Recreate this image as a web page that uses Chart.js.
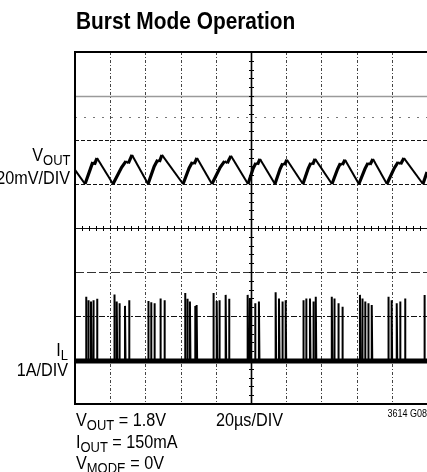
<!DOCTYPE html>
<html>
<head>
<meta charset="utf-8">
<script src="https://cdn.jsdelivr.net/npm/chart.js@4"></script>
<style>
  body { margin: 0; background: #fff; }
  #wrap { position: relative; width: 427px; height: 472px; overflow: hidden; }
  canvas { position: absolute; left: 0; top: 0; }
  .lbl {
    position: absolute; white-space: nowrap; color: #000; line-height: 1;
    font-family: "Liberation Sans", Arial, sans-serif;
    font-size: 18px;
    transform: scaleX(0.9); transform-origin: left top;
  }
  .lbl .sb { font-size: 0.8em; position: relative; top: 0.3em; }
  #title { font-weight: bold; font-size: 24px; left: 76px; top: 9px; transform: scaleX(0.87); }
  .r { text-align: right; transform-origin: right top; }
</style>
</head>
<body>
<div id="wrap">
  <canvas id="scope" width="427" height="472"></canvas>
  <div id="title" class="lbl">Burst Mode Operation</div>
  <div class="lbl r" style="right:357px; top:146px;">V<span class="sb">OUT</span></div>
  <div class="lbl r" style="right:357px; top:169px;">20mV/DIV</div>
  <div class="lbl r" style="right:359px; top:341px;">I<span class="sb">L</span></div>
  <div class="lbl r" style="right:359px; top:361px;">1A/DIV</div>
  <div class="lbl" style="left:76px; top:411px;">V<span class="sb">OUT</span> = 1.8V</div>
  <div class="lbl" style="left:216px; top:411px;">20µs/DIV</div>
  <div class="lbl r" style="right:0px; top:409px; font-size:10px;">3614 G08</div>
  <div class="lbl" style="left:76px; top:433px;">I<span class="sb">OUT</span> = 150mA</div>
  <div class="lbl" style="left:76px; top:454px;">V<span class="sb">MODE</span> = 0V</div>
</div>
<script>
// screen is 10 x 8 divisions, time axis in µs (20µs/DIV), levels in divisions
const timeTicks = [0, 20, 40, 60, 80, 100, 120, 140, 160, 180, 200];
const levelTicks = [0, 1, 2, 3, 4, 5, 6, 7, 8];

// VOUT trace (20mV/DIV), vertices
const voutTime = [0, 5.7,
  8.8, 10.1, 11.0, 12.5, 21.6,
  26.5, 29.0, 30.3, 32.4, 41.5,
  45.0, 47.0, 47.9, 49.4, 61.4,
  64.8, 66.7, 67.7, 69.3, 77.8,
  82.5, 85.0, 86.5, 88.6, 98.3,
  101.2, 102.8, 103.7, 105.1, 113.6,
  116.5, 118.0, 119.0, 120.4, 129.5,
  132.5, 134.0, 135.0, 136.4, 146.0,
  149.2, 150.8, 151.9, 153.4, 161.3,
  164.8, 166.5, 167.6, 169.3, 177.2,
  181.4, 183.6, 185.0, 186.9, 197.7,
  200];
const voutLevel = [5.32, 5.0,
  5.35, 5.50, 5.44, 5.59, 5.0,
  5.38, 5.52, 5.47, 5.66, 5.0,
  5.40, 5.55, 5.50, 5.66, 5.0,
  5.36, 5.50, 5.45, 5.59, 5.0,
  5.38, 5.52, 5.47, 5.64, 5.0,
  5.35, 5.48, 5.44, 5.57, 5.0,
  5.34, 5.47, 5.43, 5.55, 5.0,
  5.35, 5.48, 5.44, 5.57, 5.0,
  5.34, 5.47, 5.43, 5.55, 5.0,
  5.35, 5.48, 5.44, 5.57, 5.0,
  5.36, 5.50, 5.45, 5.59, 5.0,
  5.27];

// IL trace (1A/DIV): flat floor plus switching bursts
const ilBaseLevel = 0.98;
const ilSpikeTime = [
  6.25, 7.56, 9.09, 10.4, 12.5,
  22.3, 23.7, 25.2, 28.4, 30.7,
  41.6, 43.2, 45.1, 48.5, 50.8,
  62.5, 63.8, 65.3, 68.2, 69.1,
  78.6, 80.5, 82.0, 85.6, 87.5,
  98.1, 99.4, 102.3, 104.5,
  114.0, 115.9, 117.8, 119.7,
  129.7, 131.3, 133.5, 135.4, 136.8,
  145.9, 147.3, 149.6, 151.9,
  161.9, 163.2, 164.8, 166.6, 168.6,
  178.0, 179.9, 182.8, 184.7, 187.5,
  198.5];
const ilSpikeTop = [
  2.44, 2.36, 2.33, 2.36, 2.39,
  2.49, 2.33, 2.29, 2.23, 2.36,
  2.34, 2.31, 2.29, 2.40, 2.36,
  2.52, 2.39, 2.33, 2.23, 2.25,
  2.52, 2.34, 2.36, 2.48, 2.39,
  2.48, 2.40, 2.29, 2.33,
  2.54, 2.40, 2.33, 2.36,
  2.36, 2.40, 2.40, 2.33, 2.44,
  2.44, 2.40, 2.29, 2.21,
  2.48, 2.40, 2.33, 2.29, 2.25,
  2.44, 2.36, 2.29, 2.33, 2.40,
  2.48];

const voutPoints = voutTime.map((t, i) => ({x: t, y: voutLevel[i]}));
const ilPoints = [];
ilSpikeTime.forEach((t, i) => {
  ilPoints.push({x: t, y: ilBaseLevel});
  ilPoints.push({x: t, y: ilSpikeTop[i]});
  ilPoints.push({x: t + 0.3, y: ilBaseLevel});
});

// scope graticule, drawn under the traces
const graticule = {
  id: "graticule",
  beforeDatasetsDraw(chart) {
    const {ctx, chartArea: a, scales: {x, y}} = chart;
    ctx.save();
    const hline = (v, color, width, dash) => {
      const py = Math.round(y.getPixelForValue(v)) + 0.5;
      ctx.strokeStyle = color; ctx.lineWidth = width; ctx.setLineDash(dash);
      ctx.beginPath(); ctx.moveTo(a.left, py); ctx.lineTo(a.right, py); ctx.stroke();
    };
    const vline = (v, color, width, dash) => {
      const px = Math.round(x.getPixelForValue(v)) + 0.5;
      ctx.strokeStyle = color; ctx.lineWidth = width; ctx.setLineDash(dash);
      ctx.beginPath(); ctx.moveTo(px, a.top); ctx.lineTo(px, a.bottom); ctx.stroke();
    };
    timeTicks.forEach(t => {
      if (t > 0 && t < 200 && t !== 100) vline(t, "#444", 1, [3, 2, 1, 2]);
    });
    hline(7, "#9a9a9a", 1.6, []);
    hline(6.52, "#777", 1, [2, 7]);
    hline(6, "#111", 1.2, [4, 2]);
    hline(5, "#111", 1.2, [4, 2]);
    hline(3, "#333", 1.2, [9, 3]);
    hline(2, "#111", 1.2, [6, 2, 2, 2]);
    hline(1, "#111", 1.2, [4, 2]);
    // centre cross with minor ticks
    hline(4, "#111", 1.2, []);
    vline(100, "#000", 1.6, []);
    ctx.setLineDash([]);
    ctx.lineWidth = 1;
    const cx = Math.round(x.getPixelForValue(100)) + 0.5;
    const cy = Math.round(y.getPixelForValue(4)) + 0.5;
    ctx.beginPath();
    for (let t = 0; t <= 200; t += 4) {
      const px = Math.round(x.getPixelForValue(t)) + 0.5;
      ctx.moveTo(px, cy - 2.5); ctx.lineTo(px, cy + 2.5);
    }
    for (let v = 0; v <= 8; v += 0.2) {
      const py = Math.round(y.getPixelForValue(v)) + 0.5;
      ctx.moveTo(cx - 2.5, py); ctx.lineTo(cx + 2.5, py);
    }
    ctx.stroke();
    // frame (right side runs off the page)
    ctx.strokeStyle = "#000"; ctx.lineWidth = 2;
    ctx.beginPath();
    ctx.moveTo(a.right, a.top); ctx.lineTo(a.left, a.top);
    ctx.lineTo(a.left, a.bottom); ctx.lineTo(a.right, a.bottom);
    ctx.stroke();
    ctx.restore();
  }
};

new Chart(document.getElementById("scope"), {
  type: "scatter",
  data: {
    datasets: [
      {
        label: "IL floor",
        data: [{x: 0, y: ilBaseLevel}, {x: 200, y: ilBaseLevel}],
        showLine: true, borderColor: "#000", borderWidth: 5, pointRadius: 0
      },
      {
        label: "IL",
        data: ilPoints,
        showLine: true, borderColor: "#000", borderWidth: 2, pointRadius: 0
      },
      {
        label: "VOUT",
        data: voutPoints,
        showLine: true, borderColor: "#000", borderWidth: 2, pointRadius: 0,
        segment: {
          borderWidth: (c) => (c.p1.parsed.y > c.p0.parsed.y ? 3.2 : 2)
        }
      }
    ]
  },
  options: {
    responsive: false,
    animation: false,
    devicePixelRatio: 1,
    layout: {padding: {left: 75, top: 52, right: 0, bottom: 68}},
    scales: {
      x: {type: "linear", min: 0, max: 200, display: false},
      y: {min: 0, max: 8, display: false}
    },
    plugins: {legend: {display: false}, tooltip: {enabled: false}}
  },
  plugins: [graticule]
});
</script>
</body>
</html>
